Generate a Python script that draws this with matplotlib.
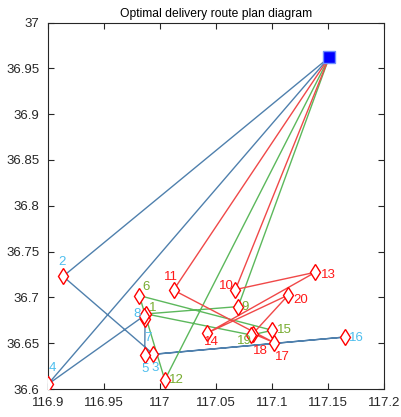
import matplotlib
matplotlib.use("Agg")
import matplotlib.pyplot as plt

# customer coordinates (ids 1..20)
ids = list(range(1, 21))
lon = [116.9877, 116.9137, 116.9942, 116.9000, 116.9865, 116.9817, 116.9868, 116.9860,
       117.0698, 117.0674, 117.0122, 117.0044, 117.1387, 117.0424, 117.1004, 117.1652,
       117.1019, 117.0830, 117.0815, 117.1146]
lat = [36.6820, 36.7230, 36.6380, 36.6050, 36.6370, 36.7020, 36.6770, 36.6800,
       36.6900, 36.7086, 36.7080, 36.6100, 36.7275, 36.6612, 36.6641, 36.6568,
       36.6507, 36.6605, 36.6590, 36.7027]
depot = (117.151, 36.962)

# routes (0 = depot)
route_blue = [0, 2, 3, 16, 5, 7, 8, 4, 0]
route_green = [0, 9, 1, 19, 15, 6, 12, 0]
route_red = [0, 11, 17, 18, 20, 14, 13, 10, 0]

# label offsets in pixels
lab_off = {1: (7, 6), 2: (-1, 14), 3: (2, -14), 4: (5, 16), 5: (0, -14), 6: (7, 9),
           7: (3, -19), 8: (-7, 2), 9: (7, 0), 10: (-9, 4), 11: (-3, 13), 12: (12, 0),
           13: (13, -3), 14: (4, -9), 15: (12, 0), 16: (11, -1), 17: (8, -14),
           18: (7, -17), 19: (-7, -6), 20: (12, -5)}

blue_line, green_line, red_line = '#4f80ad', '#5cb85c', '#f04848'
blue_lab, green_lab, red_lab = '#4dbeee', '#77ac30', '#ff1a1a'

plt.rcParams['font.family'] = ['Liberation Sans Narrow', 'Liberation Sans', 'DejaVu Sans']

fig = plt.figure(figsize=(4.01, 4.17), dpi=100)
ax = fig.add_axes([0.119, 0.067, 0.839, 0.879])

def coords(r):
    xs, ys = [], []
    for k in r:
        if k == 0:
            xs.append(depot[0]); ys.append(depot[1])
        else:
            xs.append(lon[k - 1]); ys.append(lat[k - 1])
    return xs, ys

for r, c, lc in [(route_blue, blue_line, blue_lab), (route_green, green_line, green_lab),
                 (route_red, red_line, red_lab)]:
    xs, ys = coords(r)
    ax.plot(xs, ys, color=c, lw=1.0, zorder=2)
    for k in r:
        if k == 0:
            continue
        dx, dy = lab_off[k]
        ax.annotate(str(k), (lon[k - 1], lat[k - 1]), xytext=(dx, dy),
                    textcoords='offset pixels', ha='center', va='center',
                    color=lc, fontsize=9.5, zorder=4)

ax.plot(lon, lat, linestyle='none', marker='d', markersize=8, markerfacecolor='white',
        markeredgecolor='red', markeredgewidth=1.0, zorder=3)
ax.plot([depot[0]], [depot[1]], marker='s', markersize=8.5, markerfacecolor='#0000ff',
        markeredgecolor='#6f8fff', linestyle='none', zorder=3)

ax.set_xlim(116.9, 117.2)
ax.set_ylim(36.6, 37.0)
ax.set_xticks([116.9, 116.95, 117, 117.05, 117.1, 117.15, 117.2])
ax.set_xticklabels(['116.9', '116.95', '117', '117.05', '117.1', '117.15', '117.2'])
ax.set_yticks([36.6, 36.65, 36.7, 36.75, 36.8, 36.85, 36.9, 36.95, 37])
ax.set_yticklabels(['36.6', '36.65', '36.7', '36.75', '36.8', '36.85', '36.9', '36.95', '37'])
ax.tick_params(direction='in', top=True, right=True, labelsize=9.5, length=4,
               colors='#262626', width=0.8, pad=6)
for s in ax.spines.values():
    s.set_color('#262626')
    s.set_linewidth(0.8)
ax.set_title('Optimal delivery route plan diagram', fontsize=8.7, pad=4)

fig.savefig('out.png', dpi=100)
